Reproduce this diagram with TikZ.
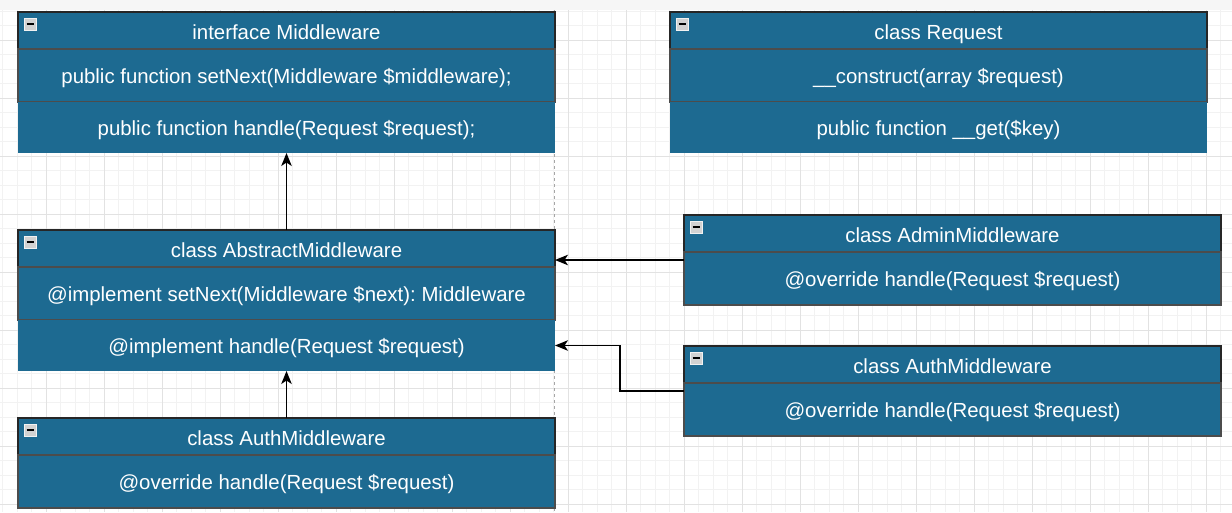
\documentclass[tikz,border=0pt]{standalone}
\usepackage{fontspec}
\setmainfont{Liberation Sans}
\usetikzlibrary{positioning,fit,arrows.meta}
\frenchspacing
\definecolor{umlblue}{RGB}{29,106,145}
\definecolor{gridminor}{RGB}{242,242,242}
\definecolor{gridmajor}{RGB}{226,226,226}
\tikzset{
  hdr/.style={rectangle, fill=umlblue, draw=black!85, line width=1.2pt, text=white,
    minimum width=537pt, minimum height=37pt, inner sep=0pt, outer sep=0pt,
    text height=17pt, text depth=0pt,
    anchor=north west, font=\fontsize{20.4}{24}\selectfont},
  rowa/.style={hdr, draw=black!70, minimum height=53pt, text height=16.5pt},
  rowb/.style={hdr, draw=none, minimum height=51pt, text height=16.5pt},
  iconbox/.style={fill=gray!35, draw=gray!10, line width=0.8pt},
  arr/.style={line width=1.3pt, -{Stealth[length=13pt,width=10.5pt,inset=3.5pt]}}
}
\begin{document}
\begin{tikzpicture}[x=1pt,y=-1pt]
\useasboundingbox (0,0) rectangle (1232,512);
\fill[white] (0,0) rectangle (1232,512);
\fill[gray!7] (0,0) rectangle (1232,10);

\foreach \x in {2.5,17,...,1232}
    \draw[gridminor] (\x,10) -- (\x,512);
\foreach \y in {11,25.5,...,512}
    \draw[gridminor] (0,\y) -- (1232,\y);
\foreach \x in {46,104,...,1232}
    \draw[gridmajor] (\x,10) -- (\x,512);
\foreach \y in {40,98,...,512}
    \draw[gridmajor] (0,\y) -- (1232,\y);
\draw[gray!70, dash pattern=on 3pt off 3pt] (554.5,10) -- (554.5,512);

\node[hdr] (mwhdr) at (18,12) {interface Middleware};
\node[rowa, below=0pt of mwhdr] (mwrow1) {public function setNext(Middleware \$middleware);};
\node[rowb, below=0pt of mwrow1] (mwrow2) {public function handle(Request \$request);};

\node[hdr] (reqhdr) at (670,12) {class Request};
\node[rowa, below=0pt of reqhdr] (reqrow1) {\_\_construct(array \$request)};
\node[rowb, below=0pt of reqrow1] (reqrow2) {public function \_\_get(\$key)};

\node[hdr] (abshdr) at (18,230) {class AbstractMiddleware};
\node[rowa, below=0pt of abshdr] (absrow1) {@implement setNext(Middleware \$next): Middleware};
\node[rowb, below=0pt of absrow1] (absrow2) {@implement handle(Request \$request)};

\node[hdr] (admhdr) at (684,215) {class AdminMiddleware};
\node[rowa, below=0pt of admhdr] (admrow) {@override handle(Request \$request)};
\node[fit=(admhdr)(admrow), inner sep=0pt, outer sep=0pt] (admin) {};

\node[hdr] (authrhdr) at (684,346) {class AuthMiddleware};
\node[rowa, below=0pt of authrhdr] (authrrow) {@override handle(Request \$request)};
\node[fit=(authrhdr)(authrrow), inner sep=0pt, outer sep=0pt] (authr) {};

\node[hdr] (authlhdr) at (18,418) {class AuthMiddleware};
\node[rowa, below=0pt of authlhdr] (authlrow) {@override handle(Request \$request)};

\foreach \h in {mwhdr,reqhdr,abshdr,admhdr,authrhdr,authlhdr} {
    \draw[iconbox] ([shift={(6,6)}]\h.north west) rectangle ++(12,12);
    \draw[line width=2pt] ([shift={(8.5,12)}]\h.north west) -- ++(7,0);
}

\draw[arr] (abshdr.north) -- (mwrow2.south);
\draw[arr] (authlhdr.north) -- (absrow2.south);
\draw[arr] (admin.west) -- (admin.west -| abshdr.east);
\draw[arr] (authr.west) -- ++(-64,0) |- (absrow2.east);

\end{tikzpicture}
\end{document}
